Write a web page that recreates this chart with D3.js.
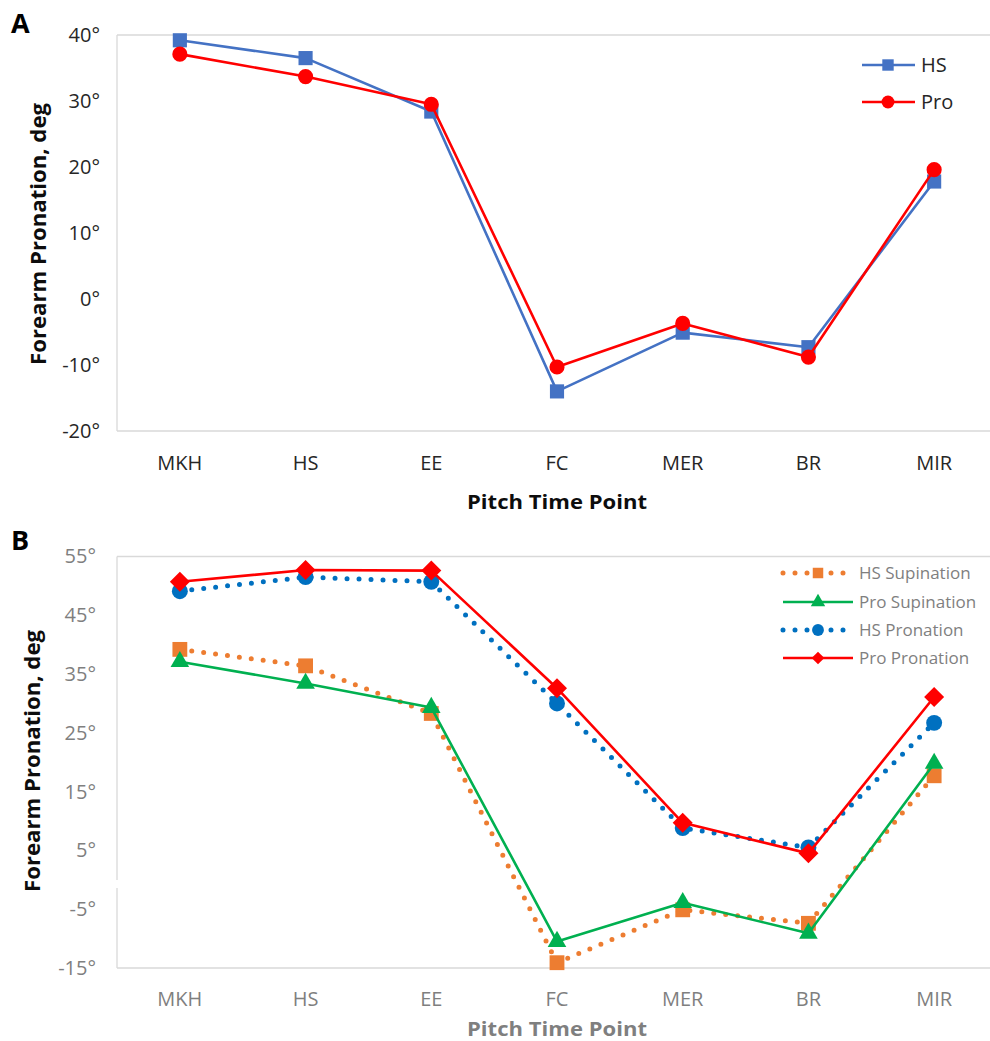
<!DOCTYPE html>
<html><head><meta charset="utf-8">
<script src="https://cdn.jsdelivr.net/npm/d3@7"></script>
<style>html,body{margin:0;padding:0;background:#fff;}svg{display:block;font-family:"Open Sans",sans-serif;}</style>
</head><body>
<svg id="c" width="990" height="1041"></svg>
<script>
const categories = ["MKH","HS","EE","FC","MER","BR","MIR"];
// Panel A
const aHS  = [39.2, 36.5, 28.4, -14.0, -5.1, -7.3, 17.8];
const aPro = [37.1, 33.7, 29.5, -10.3, -3.7, -8.8, 19.6];
const aTicks = [-20, -10, 0, 10, 20, 30, 40];
// Panel B
const bHSSup  = [39.2, 36.4, 28.3, -14.1, -5.1, -7.4, 17.7];
const bProSup = [37.1, 33.4, 29.3, -10.5, -3.9, -9.1, 19.8];
const bHSPro  = [49.1, 51.5, 50.7, 30.0, 8.8, 5.5, 26.7];
const bProPro = [50.7, 52.7, 52.6, 32.6, 9.7, 4.5, 31.1];
const bTicks = [-15, -5, 5, 15, 25, 35, 45, 55];
const aSeriesNames = ["HS", "Pro"];
const bSeriesNames = ["HS Supination", "Pro Supination", "HS Pronation", "Pro Pronation"];

const svg = d3.select("#c");
const x = d3.scaleBand().domain(categories).range([117, 997]);
const cx = c => x(c) + x.bandwidth() / 2;

// "diamond" = square rotated 45 degrees
function sym(type, size) { return d3.symbol().type(type === "diamond" ? d3.symbolSquare : type).size(size)(); }
function rot(type) { return type === "diamond" ? " rotate(45)" : ""; }

function frame(top, bottom) {
  const g = svg.append("g");
  g.append("line").attr("x1",117).attr("x2",997).attr("y1",top).attr("y2",top).attr("stroke","#d9d9d9").attr("stroke-width",1.3);
  g.append("line").attr("x1",117).attr("x2",997).attr("y1",bottom).attr("y2",bottom).attr("stroke","#d9d9d9").attr("stroke-width",1.3);
  g.append("line").attr("x1",117).attr("x2",117).attr("y1",top).attr("y2",bottom).attr("stroke","#d9d9d9").attr("stroke-width",1.3);
  return g;
}

function yAxis(y, ticks, xEnd, color) {
  const ax = d3.axisLeft(y).tickValues(ticks).tickSize(0).tickFormat(d => d + "°");
  const g = svg.append("g").attr("transform", `translate(${xEnd},0)`).call(ax);
  g.select(".domain").remove();
  g.selectAll("text").attr("font-size", 20).attr("fill", color).attr("font-family", "Open Sans").attr("dx", 0).attr("x", 0);
}

function xAxis(yPos, color) {
  const ax = d3.axisBottom(x).tickSize(0);
  const g = svg.append("g").attr("transform", `translate(0,${yPos})`).call(ax);
  g.select(".domain").remove();
  g.selectAll("text").attr("font-size", 20).attr("fill", color).attr("font-family", "Open Sans").attr("dy", 0).attr("y", 0);
}

function series(y, vals, color, dotted, shape, size) {
  const data = categories.map((c, i) => [c, vals[i]]);
  const line = d3.line().x(d => cx(d[0])).y(d => y(d[1]));
  const p = svg.append("path").datum(data).attr("d", line).attr("fill", "none").attr("stroke", color);
  if (dotted) p.attr("stroke-width", 5).attr("stroke-linecap", "round").attr("stroke-dasharray", "0,12");
  else p.attr("stroke-width", 2.6).attr("stroke-linejoin", "round");
  svg.append("g").selectAll("path").data(data).join("path")
    .attr("d", sym(shape, size))
    .attr("transform", d => `translate(${cx(d[0])},${y(d[1])})` + rot(shape))
    .attr("fill", color);
}

function legendItem(xl, xr, xm, yy, color, dotted, shape, size, label, textColor, fs) {
  const l = svg.append("line").attr("x1", xl).attr("x2", xr).attr("y1", yy).attr("y2", yy).attr("stroke", color);
  if (dotted) l.attr("stroke-width", 5).attr("stroke-linecap", "round").attr("stroke-dasharray", "0,12");
  else l.attr("stroke-width", 2.6);
  svg.append("path").attr("d", sym(shape, size)).attr("transform", `translate(${xm},${yy})` + rot(shape)).attr("fill", color);
  svg.append("text").attr("x", xr + 6).attr("y", yy).attr("dy", "0.35em").attr("font-size", fs).attr("fill", textColor).text(label);
}

// ---------- Panel A ----------
const yA = d3.scaleLinear().domain([-20, 40]).range([431, 35]);
frame(35, 431);
yAxis(yA, aTicks, 100, "#262626");
xAxis(470, "#262626");
series(yA, aHS, "#4472C4", false, d3.symbolSquare, 200);
series(yA, aPro, "#FF0000", false, d3.symbolCircle, 180);
legendItem(862, 915, 888, 65, "#4472C4", false, d3.symbolSquare, 130, aSeriesNames[0], "#262626", 20);
legendItem(862, 915, 888, 102, "#FF0000", false, d3.symbolCircle, 130, aSeriesNames[1], "#262626", 20);
svg.append("text").attr("x", 557).attr("y", 509).attr("text-anchor", "middle").attr("font-size", 20).attr("font-weight", "bold")
  .attr("fill", "#0d0d0d").attr("textLength", 180).attr("lengthAdjust", "spacingAndGlyphs").text("Pitch Time Point");
svg.append("text").attr("transform", "translate(46,234) rotate(-90)").attr("text-anchor", "middle").attr("font-size", 21)
  .attr("font-weight", "bold").attr("fill", "#0d0d0d").attr("textLength", 262).attr("lengthAdjust", "spacingAndGlyphs").text("Forearm Pronation, deg");
svg.append("text").attr("x", 11).attr("y", 33).attr("font-size", 27).attr("font-weight", "bold").attr("fill", "#000").text("A");

// ---------- Panel B ----------
const yB = d3.scaleLinear().domain([-15, 55]).range([968, 556.5]);
frame(556.5, 968);
svg.append("rect").attr("x", 114).attr("y", 880).attr("width", 6).attr("height", 8).attr("fill", "#fff");
yAxis(yB, bTicks, 96, "#7f7f7f");
xAxis(1006, "#7f7f7f");
series(yB, bHSSup, "#ED7D31", true, d3.symbolSquare, 220);
series(yB, bProSup, "#00B050", false, d3.symbolTriangle, 150);
series(yB, bHSPro, "#0070C0", true, d3.symbolCircle, 200);
series(yB, bProPro, "#FF0000", false, "diamond", 200);
const bColors = ["#ED7D31", "#00B050", "#0070C0", "#FF0000"];
const bShapes = [d3.symbolSquare, d3.symbolTriangle, d3.symbolCircle, "diamond"];
const bDotted = [true, false, true, false];
const bSizes = [110, 90, 110, 80];
[573, 602, 630, 658].forEach((yy, i) =>
  legendItem(783, 853, 818, yy, bColors[i], bDotted[i], bShapes[i], bSizes[i], bSeriesNames[i], "#7f7f7f", 17));
svg.append("text").attr("x", 557).attr("y", 1036).attr("text-anchor", "middle").attr("font-size", 20).attr("font-weight", "bold")
  .attr("fill", "#7f7f7f").attr("textLength", 180).attr("lengthAdjust", "spacingAndGlyphs").text("Pitch Time Point");
svg.append("text").attr("transform", "translate(40,761) rotate(-90)").attr("text-anchor", "middle").attr("font-size", 21)
  .attr("font-weight", "bold").attr("fill", "#0d0d0d").attr("textLength", 262).attr("lengthAdjust", "spacingAndGlyphs").text("Forearm Pronation, deg");
svg.append("text").attr("x", 11).attr("y", 550).attr("font-size", 27).attr("font-weight", "bold").attr("fill", "#000").text("B");
</script>
</body></html>
